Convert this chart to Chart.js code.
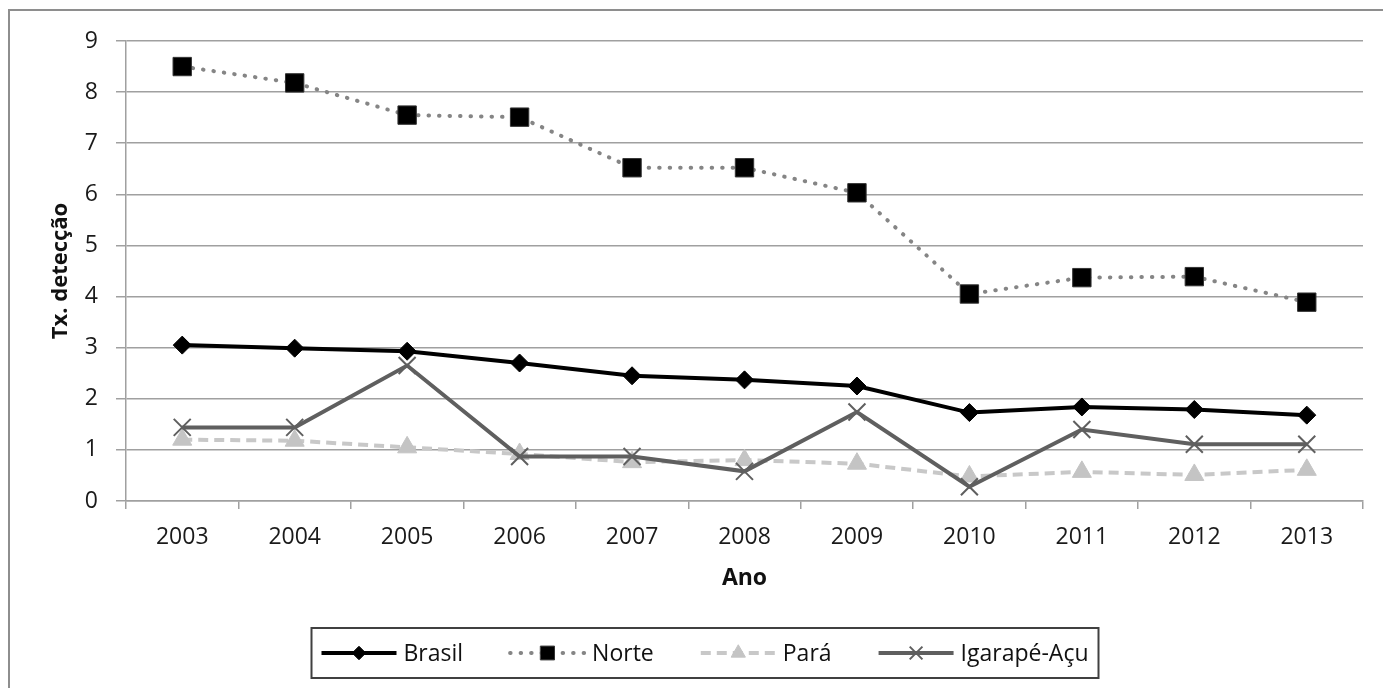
<!DOCTYPE html>
<html>
<head>
<meta charset="utf-8">
<script src="https://cdn.jsdelivr.net/npm/chart.js@4.4.1/dist/chart.umd.min.js"></script>
<style>
  html, body { margin: 0; padding: 0; background: #fff; overflow: hidden; }
  .frame { position: absolute; left: 8px; top: 9px; width: 1400px; height: 720px; border: 2px solid #8e8e8e; }
  canvas { position: absolute; left: 0; top: 0; }
</style>
</head>
<body>
<div class="frame"></div>
<canvas id="chart" width="1383" height="688"></canvas>
<script>
const years = ['2003', '2004', '2005', '2006', '2007', '2008', '2009', '2010', '2011', '2012', '2013'];
const brasil = [3.05, 2.99, 2.93, 2.70, 2.45, 2.37, 2.25, 1.73, 1.84, 1.79, 1.68];
const norte = [8.5, 8.18, 7.55, 7.51, 6.52, 6.52, 6.03, 4.05, 4.37, 4.39, 3.89];
const para = [1.2, 1.18, 1.05, 0.92, 0.76, 0.8, 0.73, 0.48, 0.57, 0.51, 0.61];
const igarape = [1.44, 1.44, 2.65, 0.87, 0.87, 0.58, 1.74, 0.28, 1.4, 1.11, 1.11];

const fontName = '"Open Sans", sans-serif';

// legend drawn by hand: line + marker + label, inside a box
const boxLegend = {
    id: 'boxLegend',
    afterDraw(chart) {
        const ctx = chart.ctx;
        const sets = chart.data.datasets;
        const lineW = 75, gap = 7, spacing = 47, y = 653;
        ctx.save();
        ctx.font = '23px ' + fontName;
        const widths = sets.map(d => ctx.measureText(d.label).width);
        let total = spacing * (sets.length - 1);
        widths.forEach(w => total += lineW + gap + w);
        let x = 705 - total / 2;

        ctx.strokeStyle = '#404040';
        ctx.lineWidth = 2;
        ctx.strokeRect(Math.round(x - 10) + 0.5, 628, Math.round(total + 20), 50);

        sets.forEach((ds, i) => {
            ctx.save();
            ctx.strokeStyle = ds.borderColor;
            ctx.lineWidth = ds.borderWidth;
            ctx.lineCap = ds.borderCapStyle || 'butt';
            ctx.setLineDash(ds.borderDash || []);
            ctx.beginPath();
            ctx.moveTo(x, y);
            ctx.lineTo(x + lineW, y);
            ctx.stroke();
            ctx.setLineDash([]);
            ctx.fillStyle = ds.pointBackgroundColor;
            ctx.strokeStyle = ds.pointBorderColor;
            ctx.lineWidth = ds.pointBorderWidth;
            Chart.helpers.drawPoint(ctx, {
                pointStyle: ds.pointStyle,
                radius: ds.pointRadius * 0.75,
                borderWidth: ds.pointBorderWidth,
                rotation: 0
            }, x + lineW / 2, y);
            ctx.restore();
            ctx.fillStyle = '#111';
            ctx.textBaseline = 'middle';
            ctx.textAlign = 'left';
            ctx.fillText(ds.label, x + lineW + gap, y + 1);
            x += lineW + gap + widths[i] + spacing;
        });
        ctx.restore();
    }
};

new Chart(document.getElementById('chart'), {
    type: 'line',
    data: {
        labels: years,
        datasets: [
            {
                label: 'Brasil',
                data: brasil,
                order: 3,
                borderColor: '#000',
                borderWidth: 4,
                pointStyle: 'rectRot',
                pointRadius: 9,
                pointBackgroundColor: '#000',
                pointBorderColor: '#000',
                pointBorderWidth: 1
            },
            {
                label: 'Norte',
                data: norte,
                order: 2,
                borderColor: '#858585',
                borderWidth: 4,
                borderDash: [0.5, 10],
                borderCapStyle: 'round',
                pointStyle: 'rect',
                pointRadius: 13,
                pointBackgroundColor: '#000',
                pointBorderColor: '#333',
                pointBorderWidth: 1
            },
            {
                label: 'Pará',
                data: para,
                order: 1,
                borderColor: '#c8c8c8',
                borderWidth: 4,
                borderDash: [10, 6],
                pointStyle: 'triangle',
                pointRadius: 11,
                pointBackgroundColor: '#c4c4c4',
                pointBorderColor: '#c4c4c4',
                pointBorderWidth: 1
            },
            {
                label: 'Igarapé-Açu',
                data: igarape,
                order: 0,
                borderColor: '#5f5f5f',
                borderWidth: 4,
                pointStyle: 'crossRot',
                pointRadius: 12,
                pointBackgroundColor: '#5f5f5f',
                pointBorderColor: '#5f5f5f',
                pointBorderWidth: 2
            }
        ]
    },
    options: {
        responsive: false,
        animation: false,
        layout: { padding: { left: 0, top: 41, right: 20, bottom: 90 } },
        plugins: {
            legend: { display: false },
            tooltip: { enabled: false }
        },
        scales: {
            x: {
                offset: true,
                grid: { offset: true, drawOnChartArea: false, tickLength: 8, color: '#a0a0a0', lineWidth: 1.5 },
                border: { color: '#a0a0a0', width: 1.5 },
                ticks: { color: '#1a1a1a', font: { family: fontName, size: 23 }, padding: 15, maxRotation: 0 },
                title: { display: true, text: 'Ano', color: '#111', font: { family: fontName, size: 23, weight: 'bold' }, padding: { top: 0, bottom: 6 } },
                afterFit(scale) { scale.height = 97; }
            },
            y: {
                min: 0,
                max: 9,
                ticks: { stepSize: 1, color: '#1a1a1a', font: { family: fontName, size: 23 }, padding: 18 },
                grid: { tickLength: 10, color: '#a0a0a0', lineWidth: 1.5 },
                border: { color: '#a0a0a0', width: 1.5 },
                title: { display: true, text: 'Tx. detecção', color: '#111', font: { family: fontName, size: 22, weight: 'bold' }, padding: { top: 48, bottom: 0 } },
                afterFit(scale) { scale.width = 126; }
            }
        }
    },
    plugins: [boxLegend]
});
</script>
</body>
</html>
